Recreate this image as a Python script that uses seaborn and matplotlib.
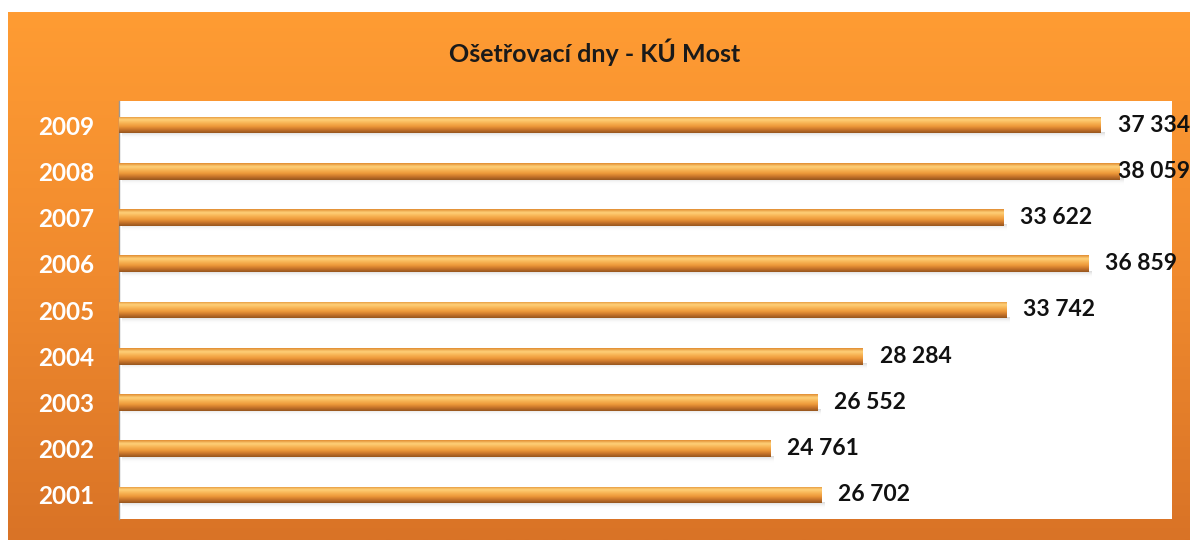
import numpy as np
import pandas as pd
import matplotlib.pyplot as plt
import seaborn as sns
from matplotlib.colors import LinearSegmentedColormap

# data
years = ["2009", "2008", "2007", "2006", "2005", "2004", "2003", "2002", "2001"]
days = [37334, 38059, 33622, 36859, 33742, 28284, 26552, 24761, 26702]
title = "Ošetřovací dny - KÚ Most"

df = pd.DataFrame({"Rok": years, "Dny": days})

sns.set_theme(style="white")
plt.rcParams["font.family"] = ["Lato", "DejaVu Sans"]

fig = plt.figure(figsize=(11.9, 5.42), dpi=100)

# orange frame with vertical gradient
bg = fig.add_axes([8 / 1190, 2 / 542, 1182 / 1190, 528 / 542])
bg_cmap = LinearSegmentedColormap.from_list("bg", ["#D97326", "#F08A2E", "#FF9C33"])
bg.imshow(np.linspace(0, 1, 256).reshape(-1, 1)[::-1], cmap=bg_cmap,
          aspect="auto", extent=(0, 1, 0, 1))
bg.set_axis_off()
fig.text(0.5, 1 - 52 / 542, title, ha="center", va="center",
         fontsize=18, fontweight="bold", color="#1a1a1a")

ax = fig.add_axes([119 / 1190, 1 - 519 / 542, 1053 / 1190, 418 / 542])
ax.set_facecolor("white")
sns.barplot(data=df, x="Dny", y="Rok", orient="h", color="#F0A040",
            width=0.36, ax=ax, edgecolor="none")

# cylinder-like shading on every bar (top -> bottom)
bar_cmap = LinearSegmentedColormap.from_list(
    "bar", ["#E08A30", "#FFD27A", "#F8B455", "#EE9A3A", "#C8742A", "#95551E"])
shadow_cmap = LinearSegmentedColormap.from_list("sh", ["#00000028", "#ffffff00"])
grad = np.linspace(0, 1, 64).reshape(-1, 1)
for p in list(ax.patches):
    x0, y0 = p.get_x(), p.get_y()
    w, h = p.get_width(), p.get_height()
    # soft shadow under the bar
    ax.imshow(grad, cmap=shadow_cmap, aspect="auto", zorder=1,
              extent=(x0 + 100, x0 + w + 120, y0 + h + 0.12, y0 + h - 0.02),
              interpolation="bicubic", origin="upper")
    im = ax.imshow(grad, cmap=bar_cmap, aspect="auto", zorder=3,
                   extent=(x0, x0 + w, y0 + h, y0), interpolation="bicubic",
                   origin="upper")
    im.set_clip_path(p)
    p.set_zorder(2)

ax.set_xlim(0, 40040)
ax.set_ylim(8.52, -0.52)

for i, v in enumerate(days):
    ax.text(min(v + 650, 38000), i, f"{v:,}".replace(",", " "),
            ha="left", va="center", fontsize=16.5, fontweight="bold",
            color="#111111", clip_on=False, zorder=5)

ax.set_xticks([])
ax.set_xlabel("")
ax.set_ylabel("")
ax.set_yticks(range(len(years)))
ax.set_yticklabels(years, fontsize=17.5, fontweight="bold", color="white")
ax.tick_params(axis="y", length=0, pad=18)
for s in ["top", "right", "bottom"]:
    ax.spines[s].set_visible(False)
ax.spines["left"].set_color("#999999")
ax.spines["left"].set_linewidth(1)

fig.savefig("out.png", dpi=100)
